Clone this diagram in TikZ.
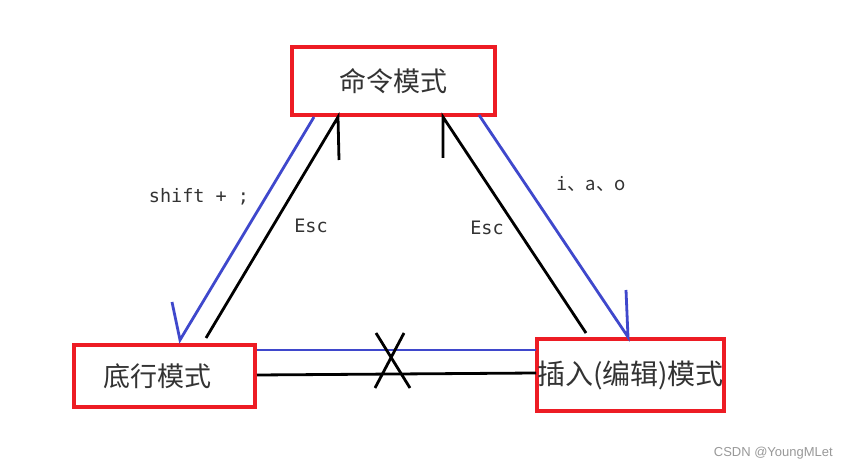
\documentclass[tikz,border=0pt]{standalone}
\usepackage{fontspec}
\setmainfont{Noto Sans CJK SC}
\newfontfamily\cjk{Noto Sans CJK SC}
\newfontfamily\monof{DejaVu Sans Mono}
\newfontfamily\wmfont{Liberation Sans}
\definecolor{pRed}{HTML}{ED1C24}
\definecolor{pBlue}{HTML}{3F48CC}
\definecolor{txt}{HTML}{333333}
\tikzset{
  modebox/.style={draw=pRed, line width=4pt, inner sep=0pt, text=txt, font=\cjk\fontsize{27}{30}\selectfont},
  blueline/.style={draw=pBlue, line width=2.8pt},
  blackline/.style={draw=black, line width=2.8pt},
  keylabel/.style={text=txt, font=\monof\fontsize{18.5}{21}\selectfont, inner sep=0pt},
}
\begin{document}
\begin{tikzpicture}[x=1pt,y=-1pt]
\useasboundingbox[fill=white] (0,0) rectangle (849,470);

% boxes
\node[modebox, minimum width=203pt, minimum height=68pt] (cmd) at (393.5,81) {命令模式};
\node[modebox, minimum width=181pt, minimum height=62pt] (last) at (164.5,376) {\hspace*{-14pt}底行模式};
\node[modebox, minimum width=187pt, minimum height=72pt] (ins) at (630.5,375) {\fontsize{28}{30}\selectfont 插入(编辑)模式};

% endpoints
\coordinate (blA) at (314,117);
\coordinate (blB) at (180,340);
\coordinate (blC) at (172,302);
\coordinate (brA) at (479,115);
\coordinate (brB) at (628,337);
\coordinate (brC) at (626,290);
\coordinate (klA) at (206,338);
\coordinate (klB) at (338,117);
\coordinate (klT) at (339,160);
\coordinate (krA) at (586,333);
\coordinate (krB) at (443,117);
\coordinate (krT) at (443,158);
\coordinate (hbA) at (257,350);
\coordinate (hbB) at (536,350);
\coordinate (hkA) at (257,375);
\coordinate (hkB) at (536,373);
\coordinate (x1) at (376,333);
\coordinate (x2) at (410,388);
\coordinate (x3) at (404,333);
\coordinate (x4) at (375,388);

% connectors
\draw[blueline] (blA) -- (blB) -- (blC);
\draw[blueline] (brA) -- (brB) -- (brC);
\draw[blackline] (klA) -- (klB) -- (klT);
\draw[blackline] (krA) -- (krB) -- (krT);
\draw[blueline] (hbA) -- (hbB);
\draw[blackline] (hkA) -- (hkB);
\draw[blackline] (x1) -- (x2);
\draw[blackline] (x3) -- (x4);

% labels
\node[keylabel] (lshift) at (199,197) {shift + ;};
\node[keylabel] (lesc1) at (311,226) {Esc};
\node[keylabel] (lesc2) at (487,228) {Esc};
\node[keylabel] (lins) at (591,184) {i\cjk{、}a\cjk{、}o};

% watermark
\node[text=black!40, font=\wmfont\fontsize{13}{15}\selectfont, inner sep=0pt, anchor=east] (wm) at (833,453) {CSDN @YoungMLet};
\end{tikzpicture}
\end{document}
